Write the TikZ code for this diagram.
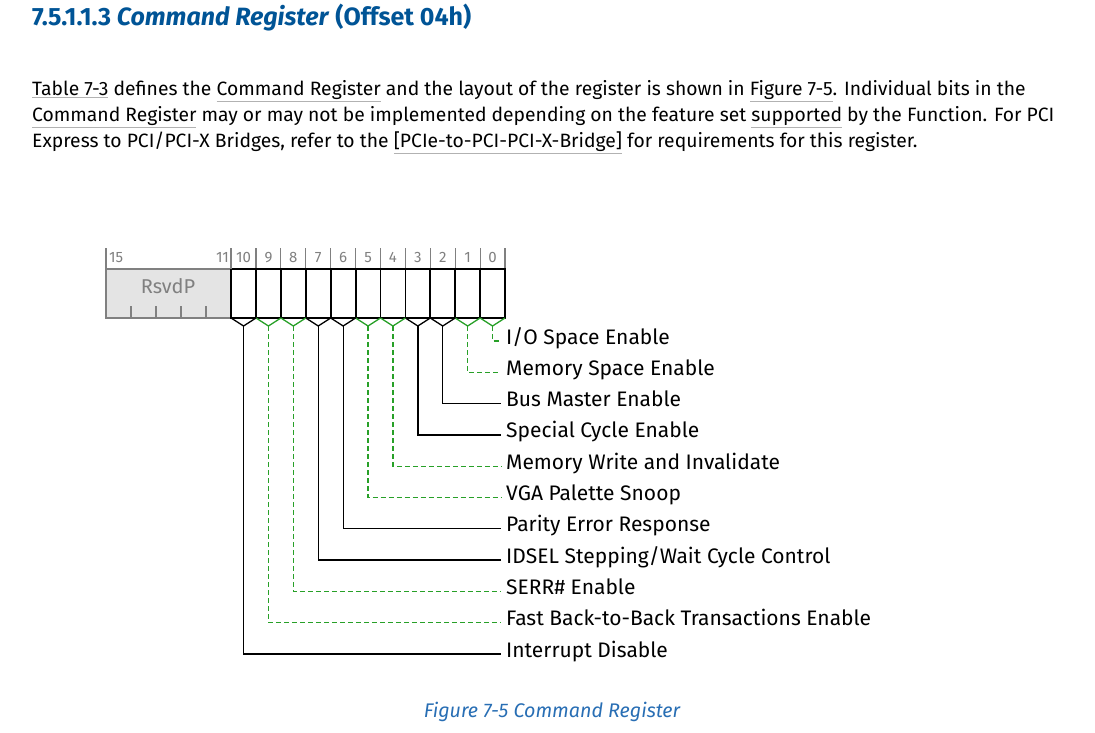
\documentclass[tikz,border=0pt]{standalone}
\usepackage{fontspec}
\setmainfont{Fira Sans}
\definecolor{hdblue}{RGB}{0,84,150}
\definecolor{capblue}{RGB}{40,110,180}
\definecolor{rsvgray}{RGB}{228,228,228}
\definecolor{fldgreen}{RGB}{40,160,40}
\newcommand\lnk[1]{\textcolor{gray!60}{\underline{\textcolor{black}{#1}}}}
\tikzset{
  txt/.style={anchor=base west, inner sep=0pt, font=\fontsize{19.3}{22}\selectfont},
  bitnum/.style={anchor=base, inner sep=0pt, text=gray, font=\fontsize{15}{17}\selectfont},
  lbl/.style={anchor=west, inner sep=0pt, text height=1.6ex, text depth=.45ex, font=\fontsize{21}{24}\selectfont},
  rw/.style={fldgreen, dash pattern=on 5pt off 3pt, line width=1.3pt},
  ro/.style={black, line width=1.3pt}
}
\begin{document}
\begin{tikzpicture}[x=1pt,y=-1pt]
        \useasboundingbox (0,0) rectangle (1095,733);
        % heading and text
        \node[txt, text=hdblue, font=\fontsize{25}{28}\selectfont\bfseries] (head) at (32,26) {7.5.1.1.3 \textit{Command Register} (Offset 04h)};
        \node[txt] (line1) at (32,96) {\lnk{Table 7-3} defines the \lnk{Command Register} and the layout of the register is shown in \lnk{Figure 7-5}. Individual bits in the};
        \node[txt] (line2) at (32,122) {\lnk{Command Register} may or may not be implemented depending on the feature set \lnk{supported} by the Function. For PCI};
        \node[txt] (line3) at (32,148) {Express to PCI/PCI-X Bridges, refer to the \lnk{[PCIe-to-PCI-PCI-X-Bridge]} for requirements for this register.};
        % register box
        \filldraw[draw=gray, fill=rsvgray, line width=1.6pt] (106,269) rectangle (231,318);
        \node[inner sep=0pt, text=gray, font=\fontsize{20}{23}\selectfont] (rsvd) at (168,286) {RsvdP};
        \foreach \t in {131,156,181,206}
            \draw[gray, line width=1.1pt] (\t,306) -- (\t,318);
        \draw[gray, line width=1.1pt] (106,248) -- (106,269);
        \node[bitnum, anchor=base west] (b15) at (109,262) {15};
        \node[bitnum, anchor=base east] (b11) at (229,262) {11};
        \foreach \i in {0,...,10} {
            \pgfmathsetmacro\xl{505-24.9*(\i+1)}
            \pgfmathsetmacro\xr{505-24.9*\i}
            \draw[gray, line width=1.1pt] (\xr,248) -- (\xr,269);
            \node[bitnum] (n\i) at ({(\xl+\xr)/2},262) {\i};
            \draw[line width=1.8pt] (\xl,269) rectangle (\xr,318);
        }
        \draw[gray, line width=1.1pt] (231,248) -- (231,269);
        % fields
        \foreach \i/\st/\name in {0/rw/I\slash O Space Enable, 1/rw/Memory Space Enable, 2/ro/Bus Master Enable,
                3/ro/Special Cycle Enable, 4/rw/Memory Write and Invalidate, 5/rw/VGA Palette Snoop,
                6/ro/Parity Error Response, 7/ro/IDSEL Stepping\slash Wait Cycle Control, 8/rw/SERR\# Enable,
                9/rw/Fast Back-to-Back Transactions Enable, 10/ro/Interrupt Disable} {
            \pgfmathsetmacro\xl{505-24.9*(\i+1)}
            \pgfmathsetmacro\xr{505-24.9*\i}
            \pgfmathsetmacro\yy{341+31.3*\i}
            \coordinate (t\i) at ({(\xl+\xr)/2},326);
            \node[lbl] (f\i) at (506,\yy) {\name};
            \draw[\st, solid] (\xl,318) -- (t\i) -- (\xr,318);
            \draw[\st] (t\i) |- ([xshift=-5pt]f\i.west);
        }
        % caption
        \node[inner sep=0pt, text=capblue, font=\fontsize{19.7}{22}\selectfont\itshape] (cap) at (552,712) {Figure 7-5 Command Register};
\end{tikzpicture}
\end{document}
